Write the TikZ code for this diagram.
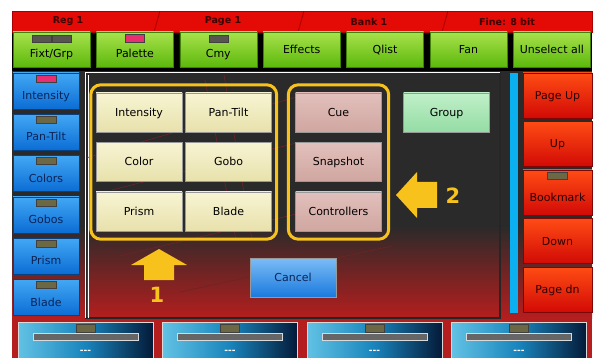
\documentclass[tikz,border=0pt]{standalone}
\usepackage{fontspec}
\setmainfont{DejaVu Sans}
\usetikzlibrary{positioning,fit}

\definecolor{barred}{HTML}{E40A06}
\definecolor{bardark}{HTML}{A80000}
\definecolor{barink}{HTML}{3C0000}
\definecolor{pnldark}{HTML}{2A2A2A}
\definecolor{pnlred}{HTML}{B41E1E}
\definecolor{grnA}{HTML}{A8E24C}
\definecolor{grnB}{HTML}{5CB80C}
\definecolor{bluA}{HTML}{42A8F4}
\definecolor{bluB}{HTML}{0C6CD4}
\definecolor{bluink}{HTML}{0A2458}
\definecolor{redA}{HTML}{FF4C14}
\definecolor{redB}{HTML}{D20A06}
\definecolor{redink}{HTML}{2C0000}
\definecolor{creamA}{HTML}{F7F4D2}
\definecolor{creamB}{HTML}{E8E1AC}
\definecolor{pinkA}{HTML}{E2C0BC}
\definecolor{pinkB}{HTML}{D0A6A0}
\definecolor{mintA}{HTML}{C0F0C8}
\definecolor{mintB}{HTML}{94DCA4}
\definecolor{cancA}{HTML}{7CBCF6}
\definecolor{cancB}{HTML}{1A7ADE}
\definecolor{frameyel}{HTML}{F8C21C}
\definecolor{sidebar}{HTML}{0AB0F0}
\definecolor{lamppink}{HTML}{E83070}
\definecolor{lampolive}{HTML}{6C6846}
\definecolor{lampgray}{HTML}{56564E}
\definecolor{pbA}{HTML}{62C2E4}
\definecolor{pbM}{HTML}{1884BC}
\definecolor{pbB}{HTML}{041A38}
\definecolor{streak}{HTML}{6E2424}

\def \topstep {83.4}
\def \sidestep {41.3}
\def \rightstep {48.5}
\def \rowstep {49.5}
\def \pbstep {144.5}
\newcommand{\condeq}[4]{\ifnum#1=#2#3\else#4\fi}

\tikzstyle{btn}=[rectangle, inner sep=0pt, text height=8pt, text depth=0pt, font=\fontsize{11}{13}\selectfont]
\tikzstyle{lamped}=[text height=17pt]
\tikzstyle{greenbtn}=[btn, minimum width=77pt, minimum height=35pt, top color=grnA, bottom color=grnB, draw=grnB!70!black]
\tikzstyle{bluebtn}=[btn, lamped, minimum width=66pt, minimum height=36pt, top color=bluA, bottom color=bluB, draw=bluB!60!black, text=bluink]
\tikzstyle{redbtn}=[btn, minimum width=69pt, minimum height=45pt, top color=redA, bottom color=redB, draw=redB!60!black, text=redink]
\tikzstyle{creambtn}=[btn, minimum width=86pt, minimum height=39pt, top color=creamA, bottom color=creamB, draw=black!40]
\tikzstyle{pinkbtn}=[creambtn, top color=pinkA, bottom color=pinkB]
\tikzstyle{mintbtn}=[creambtn, top color=mintA, bottom color=mintB]
\tikzstyle{cancelbtn}=[creambtn, top color=cancA, bottom color=cancB, text=bluink]
\tikzstyle{lamp}=[rectangle, inner sep=0pt, minimum width=20pt, minimum height=7pt, draw=black!75, line width=0.5pt, fill=lampolive]
\tikzstyle{yframe}=[draw=frameyel, line width=3pt, rounded corners=10pt]
\tikzstyle{barlbl}=[font=\fontsize{9.5}{11}\selectfont\bfseries, text=barink]
\tikzstyle{numlbl}=[font=\fontsize{21}{24}\selectfont\bfseries, text=frameyel]
\tikzstyle{pbbox}=[rectangle, minimum width=135pt, minimum height=40pt, left color=pbA, right color=pbB, middle color=pbM, draw=black!15, line width=1pt]
\tikzstyle{slider}=[rectangle, minimum width=105pt, minimum height=7pt, inner sep=0pt, fill=black!60, draw=black!15, line width=0.8pt]
\tikzstyle{pbtxt}=[font=\fontsize{9}{11}\selectfont\bfseries, text=white]

\begin{document}
\begin{tikzpicture}[x=1pt, y=-1pt]

\useasboundingbox (0,0) rectangle (594,358);
\clip (0,0) rectangle (594,358);

\fill[pnldark] (12,32) rectangle (592,225);
\shade[top color=pnldark, bottom color=pnlred] (12,225) rectangle (592,318);
\fill[pnlred] (12,318) rectangle (592,358);
\fill[black] (12,31) rectangle (592,71);

\fill[barred] (12,11) rectangle (592,32);
\foreach \x in {160, 304, 448}
    \draw[bardark, line width=0.8pt] (\x,11) -- (\x-6,32);
\draw[bardark, line width=0.8pt] (12,11) rectangle (592,32);
\node[barlbl] (reg) at (68,21.5) {Reg 1};
\node[barlbl] (page) at (223,21.5) {Page 1};
\node[barlbl] (bank) at (369,21.5) {Bank 1};
\node[barlbl] (fine) at (507,21.5) {Fine: 8 bit};

\draw[black!85, line width=1.2pt] (86,72) rectangle (500,318);
\draw[white, line width=0.8pt] (85,318) -- (85,72.5) -- (500,72.5);
\draw[white, line width=0.5pt] (88,318) -- (88,75);
\foreach \a/\b in {{(86,158)}/{(300,96)}, {(112,190)}/{(300,142)}, {(120,256)}/{(330,206)}, {(205,80)}/{(236,240)}, {(224,75)}/{(252,240)}, {(180,292)}/{(392,246)}}
    \draw[streak, line width=0.6pt] \a -- \b;

\fill[sidebar] (510,73) rectangle (518,313);

\foreach \nm/\txt [count=\i from 0] in {fixt/{Fixt/Grp}, pal/Palette, cmy/Cmy}
    \node[greenbtn, lamped] (\nm) at (51.5 + \topstep * \i, 49.5) {\txt};
\foreach \nm/\txt [count=\i from 3] in {eff/Effects, qlist/Qlist, fan/Fan, unsel/{Unselect all}}
    \node[greenbtn] (\nm) at (51.5 + \topstep * \i, 49.5) {\txt};
\node[lamp, fill=lampgray, minimum width=19pt, below left=3pt and 0pt of fixt.north] (fixt-la) {};
\node[lamp, fill=lampgray, minimum width=19pt, below right=3pt and 0pt of fixt.north] (fixt-lb) {};
\node[lamp, fill=lamppink, minimum width=19pt, minimum height=8pt, below=2pt of pal.north] (pal-lamp) {};
\node[lamp, fill=lampgray, minimum width=19pt, below=3pt of cmy.north] (cmy-lamp) {};

\foreach \nm/\txt [count=\i from 0] in {lint/Intensity, lpan/Pan-Tilt, lcol/Colors, lgob/Gobos, lpri/Prism, lbla/Blade} {
    \node[bluebtn] (\nm) at (46, 91 + \sidestep * \i) {\txt};
    \node[lamp, fill=\condeq{\i}{0}{lamppink}{lampolive}, below=2pt of \nm.north] (\nm-lamp) {};
}

\node[redbtn] (pgup) at (557.5, 95.5) {Page Up};
\node[redbtn] (up) at (557.5, 95.5 + \rightstep) {Up};
\node[redbtn, lamped] (bmk) at (557.5, 95.5 + 2 * \rightstep) {Bookmark};
\node[redbtn] (down) at (557.5, 95.5 + 3 * \rightstep) {Down};
\node[redbtn] (pgdn) at (557.5, 95.5 + 4 * \rightstep) {Page dn};
\node[lamp, below=2pt of bmk.north] (bmk-lamp) {};

\foreach \nm/\txt [count=\i from 0] in {pint/Intensity, pcol/Color, ppri/Prism}
    \node[creambtn] (\nm) at (139, 112.5 + \rowstep * \i) {\txt};
\foreach \nm/\txt [count=\i from 0] in {ppan/Pan-Tilt, pgob/Gobo, pbla/Blade}
    \node[creambtn] (\nm) at (228.5, 112.5 + \rowstep * \i) {\txt};
\foreach \nm/\txt [count=\i from 0] in {cue/Cue, snap/Snapshot, ctrl/Controllers}
    \node[pinkbtn] (\nm) at (338.5, 112.5 + \rowstep * \i) {\txt};
\node[mintbtn] (group) at (446.5, 112.5) {Group};
\node[cancelbtn] (cancel) at (293, 277.5) {Cancel};

\node[yframe, inner xsep=5pt, inner ysep=8pt, fit=(pint)(pbla)] (frameA) {};
\node[yframe, inner xsep=7pt, inner ysep=8pt, fit=(cue)(ctrl)] (frameB) {};

\fill[frameyel] (159,249) -- (187,265) -- (174,265) -- (174,280) -- (144,280) -- (144,265) -- (131,265) -- cycle;
\fill[frameyel] (396,195) -- (417,172) -- (417,182) -- (437,182) -- (437,208) -- (417,208) -- (417,218) -- cycle;
\node[numlbl] (num1) at (157,295) {1};
\node[numlbl] (num2) at (453,196) {2};

\foreach \i in {0, ..., 3} {
    \node[pbbox] (pb\i) at (85.5 + \pbstep * \i, 342) {};
    \node[lamp, minimum width=19pt, minimum height=8pt, below=2pt of pb\i.north] (pb\i-lamp) {};
    \node[slider, below=11pt of pb\i.north] (pb\i-bar) {};
    \node[pbtxt] (pb\i-txt) at ([yshift=-30pt]pb\i.north) {{-}{-}{-}};
}

\end{tikzpicture}
\end{document}
